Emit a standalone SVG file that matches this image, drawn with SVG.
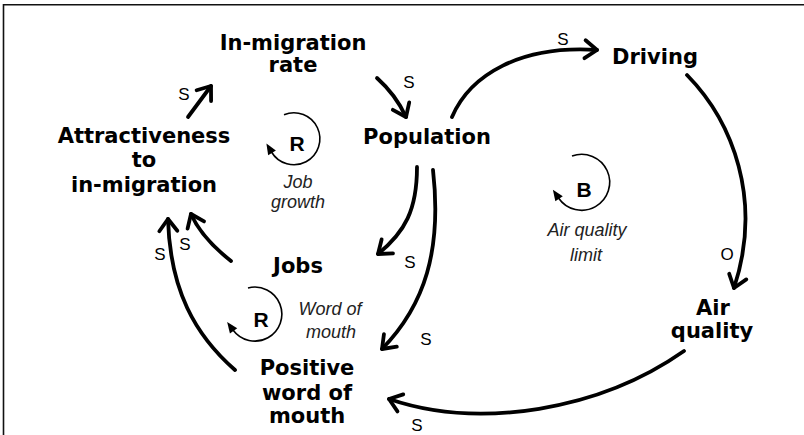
<svg xmlns="http://www.w3.org/2000/svg" width="804" height="435" viewBox="0 0 804 435">
<style>
.node{font-family:"DejaVu Sans","Liberation Sans",sans-serif;font-weight:bold;font-size:21px;fill:#000;text-anchor:middle}
.lab{font-family:"Liberation Sans",Arial,sans-serif;font-size:17px;fill:#000;text-anchor:middle}
.loopname{font-family:"Liberation Sans",Arial,sans-serif;font-style:italic;font-size:18px;fill:#222;text-anchor:middle}
.loopsym{font-family:"Liberation Sans",Arial,sans-serif;font-weight:bold;font-size:21px;fill:#000;text-anchor:middle}
.link{fill:none;stroke:#000;stroke-width:3.8;stroke-linecap:round;marker-end:url(#ah)}
.loop{fill:none;stroke:#000;stroke-width:1.6;marker-end:url(#lh)}
</style>
<defs>
<marker id="ah" markerUnits="userSpaceOnUse" orient="auto" markerWidth="1" markerHeight="1" overflow="visible">
<path d="M-12,-9 L0,0 L-12,9" fill="none" stroke="#000" stroke-width="3.8" stroke-linecap="round" stroke-linejoin="round"/>
</marker>
<marker id="lh" markerUnits="userSpaceOnUse" orient="auto" markerWidth="1" markerHeight="1" overflow="visible">
<path d="M-1,-4.5 L10,0 L-1,4.5 z" fill="#000"/>
</marker>
</defs>
<rect width="804" height="435" fill="#fff"/>
<path d="M3.5,435 V4.75 H804" fill="none" stroke="#111" stroke-width="1.6"/>

<g id="connectors">
<g id="c-attr-inmig"><path class="link" d="M188,117 L211,86"/><text class="lab" x="184" y="100">S</text></g>
<g id="c-inmig-pop"><path class="link" d="M377,78 Q396,95 406,117"/><text class="lab" x="409" y="88">S</text></g>
<g id="c-pop-driving"><path class="link" d="M452,117 C470,75 520,45 597,50"/><text class="lab" x="563" y="45">S</text></g>
<g id="c-driving-air"><path class="link" d="M687,75 C733,122 763,200 734,288"/><text class="lab" x="727" y="260">O</text></g>
<g id="c-air-positive"><path class="link" d="M684,351 C600,410 480,430 389,399"/><text class="lab" x="417" y="431">S</text></g>
<g id="c-pop-jobs"><path class="link" d="M417,167 C417,210 405,232 378,254"/><text class="lab" x="410" y="268">S</text></g>
<g id="c-pop-positive"><path class="link" d="M433,170 C442,250 425,305 382,349"/><text class="lab" x="426" y="345">S</text></g>
<g id="c-jobs-attr"><path class="link" d="M231,261 C212,246 198,230 191,214"/><text class="lab" x="185" y="250">S</text></g>
<g id="c-positive-attr"><path class="link" d="M235,370 C195,335 170,290 168,219"/><text class="lab" x="160" y="260">S</text></g>
</g>

<g id="n-inmigration"><text class="node" x="293" y="50">In-migration</text><text class="node" x="293" y="72">rate</text></g>
<g id="n-attractiveness"><text class="node" x="144" y="143">Attractiveness</text><text class="node" x="144" y="167">to</text><text class="node" x="144" y="192">in-migration</text></g>
<g id="n-population"><text class="node" x="427" y="144">Population</text></g>
<g id="n-driving"><text class="node" x="655" y="64">Driving</text></g>
<g id="n-jobs"><text class="node" x="298" y="273">Jobs</text></g>
<g id="n-positive"><text class="node" x="307" y="375">Positive</text><text class="node" x="307" y="400">word of</text><text class="node" x="307" y="423">mouth</text></g>
<g id="n-airquality"><text class="node" x="713" y="315">Air</text><text class="node" x="712" y="338">quality</text></g>

<g id="loop-job-growth">
<path class="loop" d="M284,114.7 A26,26 0 1 1 271.5,152"/>
<text class="loopsym" x="297" y="151">R</text>
<text class="loopname" x="298" y="188">Job</text><text class="loopname" x="298" y="208">growth</text>
</g>
<g id="loop-air-quality">
<path class="loop" d="M572,156 A28,28 0 1 1 558.5,198"/>
<text class="loopsym" x="584" y="197">B</text>
<text class="loopname" x="587" y="236">Air quality</text><text class="loopname" x="586" y="261">limit</text>
</g>
<g id="loop-word-of-mouth">
<path class="loop" d="M248,288 A27,27 0 1 1 233,330"/>
<text class="loopsym" x="261" y="327">R</text>
<text class="loopname" x="330" y="315">Word of</text><text class="loopname" x="331" y="338">mouth</text>
</g>
</svg>
